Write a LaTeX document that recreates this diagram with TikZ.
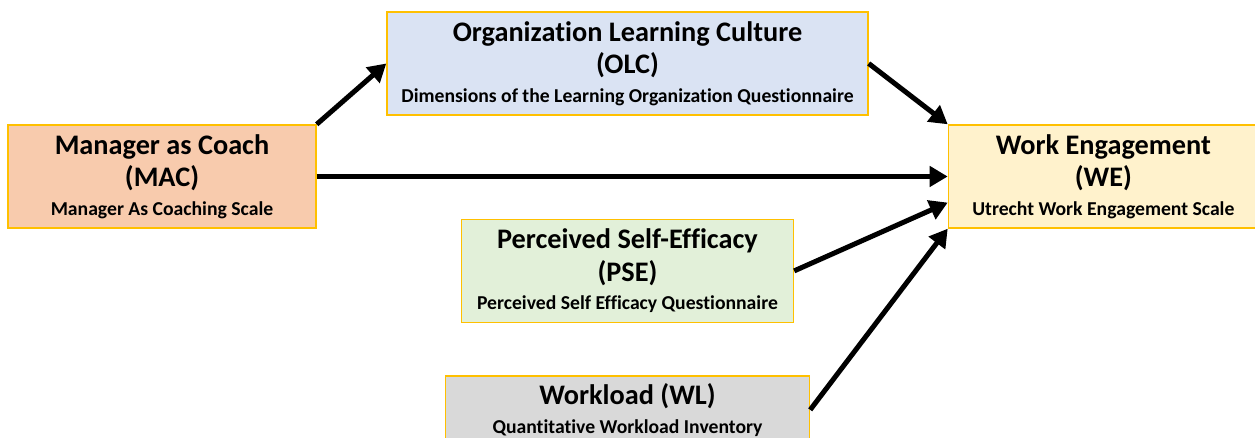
\documentclass[tikz,border=0pt]{standalone}
\usepackage{fontspec}
\setmainfont{Carlito}[Ligatures=NoCommon]
\usetikzlibrary{arrows.meta,positioning,calc}
\definecolor{boxedge}{HTML}{FFC000}
\definecolor{macfill}{HTML}{F8CBAD}
\definecolor{olcfill}{HTML}{DAE3F3}
\definecolor{wefill}{HTML}{FFF2CC}
\definecolor{psefill}{HTML}{E2F0D9}
\definecolor{wlfill}{HTML}{D9D9D9}
\newcommand{\subline}[1]{{\fontsize{11.2pt}{12pt}\selectfont #1}}

\begin{document}
\begin{tikzpicture}[
  every node/.style={font=\bfseries\fontsize{16.1pt}{18.4pt}\selectfont, draw=boxedge, line width=0.8pt, inner sep=0pt, minimum height=2.06cm, align=center},
  path/.style={line width=2.85pt, -{Triangle[length=0.36cm,width=0.4cm]}}
]
\clip (0,0) rectangle (25.1,8.76);
\node[fill=macfill, minimum width=6.16cm] (mac) at (3.24,5.23) {Manager as Coach\\(MAC)\\[-2pt]\subline{Manager As Coaching Scale}};
\node[fill=olcfill, minimum width=9.62cm] (olc) at (12.55,7.49) {Organization Learning Culture\\(OLC)\\[-2pt]\subline{Dimensions of the Learning Organization Questionnaire}};
\node[fill=wefill, minimum width=6.2cm, right=12.62cm of mac] (we) {Work Engagement\\(WE)\\[-2pt]\subline{Utrecht Work Engagement Scale}};
\node[fill=psefill, minimum width=6.64cm, below=2.06cm of olc] (pse) {Perceived Self-Efficacy\\(PSE)\\[-2pt]\subline{Perceived Self Efficacy Questionnaire}};
\node[fill=wlfill, minimum width=7.28cm, minimum height=1.36cm, below=1.04cm of pse] (wl) {Workload (WL)\\[-2pt]\subline{Quantitative Workload Inventory}};

% paths into work engagement
\draw[path] (mac.north east) -- (olc.west);
\draw[path] (olc.east) -- (we.north west);
\draw[path] (mac.east) -- (we.west);
\draw[path] (pse.east) -- ($(we.south west)!0.25!(we.north west)$);
\draw[path] (wl.east) -- (we.south west);
\end{tikzpicture}
\end{document}
